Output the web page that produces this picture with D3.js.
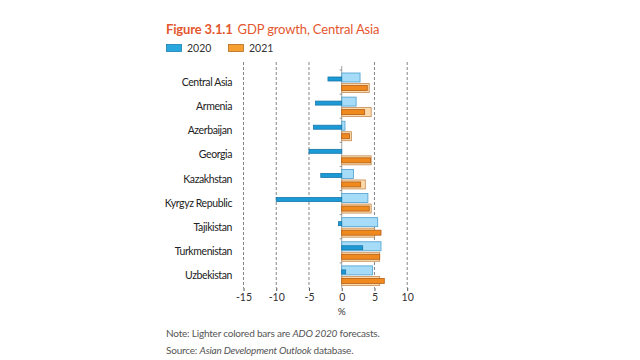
<!DOCTYPE html>
<html><head><meta charset="utf-8">
<script src="https://cdn.jsdelivr.net/npm/d3@7"></script>
<style>
html,body{margin:0;padding:0;background:#fff;}
svg{display:block;font-family:Lato, "Open Sans", sans-serif;}
</style></head>
<body>
<svg id="c" width="640" height="360"></svg>
<script>
const categories = ["Central Asia","Armenia","Azerbaijan","Georgia","Kazakhstan","Kyrgyz Republic","Tajikistan","Turkmenistan","Uzbekistan"];
const ado2020Forecast2020 = [2.8, 2.2, 0.5, 0.0, 1.8, 4.0, 5.5, 6.0, 4.7];
const update2020 = [-2.1, -4.0, -4.3, -5.0, -3.2, -10.0, -0.5, 3.2, 0.6];
const ado2020Forecast2021 = [4.2, 4.5, 1.5, 4.5, 3.6, 4.5, 5.0, 5.8, 5.8];
const update2021 = [3.9, 3.5, 1.2, 4.4, 2.9, 4.2, 6.0, 5.8, 6.5];
const xTicks = [-15, -10, -5, 0, 5, 10];
const seriesNames = ["2020", "2021"];

const svg = d3.select("#c");
const x = d3.scaleLinear().domain([-15, 10]).range([243.5, 407.2]);
const y = d3.scaleBand().domain(categories).range([70, 287]).padding(0);
const plotTop = 62, plotBottom = 288;

// Title
const t = svg.append("text").attr("x", 166).attr("y", 34).attr("font-size", 13).attr("letter-spacing", -0.15).attr("fill", "#e4572e");
t.append("tspan").attr("font-weight", "bold").text("Figure 3.1.1");
t.append("tspan").attr("dx", 5).text("GDP growth, Central Asia");

// Legend
const legCols = [["#29a8e0", "#1a7fb0"], ["#f5a030", "#b86a1e"]];
const legX = [166, 228];
seriesNames.forEach((s, i) => {
  svg.append("rect").attr("x", legX[i] + 0.5).attr("y", 44.5).attr("width", 15).attr("height", 7)
    .attr("fill", legCols[i][0]).attr("stroke", legCols[i][1]).attr("stroke-width", 0.8);
  svg.append("text").attr("x", legX[i] + 21).attr("y", 52).attr("font-size", 10.5).attr("fill", "#333").text(s);
});

// Gridlines
xTicks.filter(d => d !== 0).forEach(d => {
  svg.append("line").attr("x1", x(d)).attr("x2", x(d)).attr("y1", plotTop).attr("y2", plotBottom)
    .attr("stroke", "#666").attr("stroke-width", 0.8).attr("stroke-dasharray", "3,2");
});

// X axis
const xa = svg.append("g").attr("transform", `translate(0,${plotBottom})`)
  .call(d3.axisBottom(x).tickValues(xTicks).tickSize(3).tickPadding(3).tickFormat(d => String(d)));
xa.select(".domain").remove();
xa.selectAll("line").attr("stroke", "#555");
xa.selectAll("text").attr("font-size", 10.5).attr("fill", "#333").attr("font-family", "Lato, sans-serif");
svg.append("text").attr("x", x(0)).attr("y", 315).attr("text-anchor", "middle").attr("font-size", 10).attr("fill", "#333").text("%");

// Category labels
categories.forEach(c => {
  svg.append("text").attr("x", 232).attr("y", y(c) + y.bandwidth() / 2 + 4)
    .attr("text-anchor", "end").attr("font-size", 10.5).attr("letter-spacing", -0.4).attr("fill", "#222").text(c);
});

// Zero line and ticks
svg.append("line").attr("x1", x(0)).attr("x2", x(0)).attr("y1", plotTop + 4).attr("y2", plotBottom)
  .attr("stroke", "#888").attr("stroke-width", 0.8);
categories.forEach(c => {
  svg.append("line").attr("x1", x(0) - 2).attr("x2", x(0)).attr("y1", y(c)).attr("y2", y(c))
    .attr("stroke", "#777").attr("stroke-width", 0.8);
});

function bar(v, yy, h, fill, stroke) {
  const x0 = Math.min(x(0), x(v)), w = Math.abs(x(v) - x(0));
  if (w < 0.3) return;
  svg.append("rect").attr("x", x0).attr("y", yy).attr("width", w).attr("height", h)
    .attr("fill", fill).attr("stroke", stroke).attr("stroke-width", 0.8);
}

categories.forEach((c, i) => {
  const b = y(c);
  bar(ado2020Forecast2020[i], b + 3, 9, "#a6dcf7", "#4d9fcf");
  bar(update2020[i], b + 7, 4, "#1c9ad6", "#1677aa");
  bar(ado2020Forecast2021[i], b + 13.5, 9, "#fcdaab", "#c58b55");
  bar(update2021[i], b + 15.5, 5, "#f08a1e", "#b35f18");
});

// Notes
const n1 = svg.append("text").attr("x", 166).attr("y", 337).attr("font-size", 10).attr("letter-spacing", -0.2).attr("fill", "#555");
n1.append("tspan").text("Note: Lighter colored bars are ");
n1.append("tspan").attr("font-style", "italic").text("ADO 2020");
n1.append("tspan").text(" forecasts.");
const n2 = svg.append("text").attr("x", 166).attr("y", 354).attr("font-size", 10).attr("letter-spacing", -0.2).attr("fill", "#555");
n2.append("tspan").text("Source: ");
n2.append("tspan").attr("font-style", "italic").text("Asian Development Outlook");
n2.append("tspan").text(" database.");
</script>
</body></html>
